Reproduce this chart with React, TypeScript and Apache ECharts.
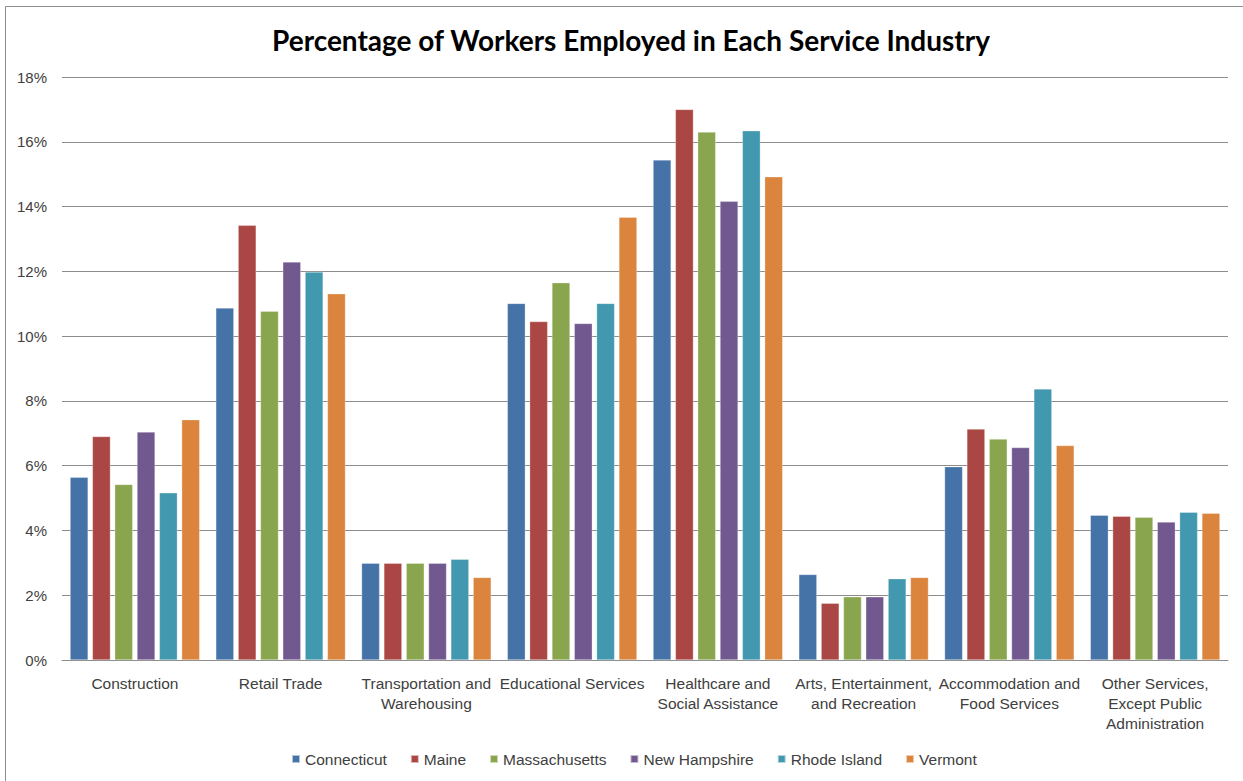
import React, { useEffect, useRef } from "react";
import * as echarts from "echarts";

const categories = [
  "Construction",
  "Retail Trade",
  "Transportation and\nWarehousing",
  "Educational Services",
  "Healthcare and\nSocial Assistance",
  "Arts, Entertainment,\nand Recreation",
  "Accommodation and\nFood Services",
  "Other Services,\nExcept Public\nAdministration",
];

const connecticut = [5.64, 10.87, 2.99, 11.01, 15.44, 2.64, 5.97, 4.47];
const maine = [6.9, 13.42, 2.99, 10.45, 17.0, 1.75, 7.13, 4.44];
const massachusetts = [5.42, 10.77, 2.99, 11.65, 16.3, 1.95, 6.82, 4.41];
const newHampshire = [7.04, 12.29, 2.99, 10.39, 14.16, 1.95, 6.56, 4.26];
const rhodeIsland = [5.16, 11.98, 3.11, 11.01, 16.34, 2.51, 8.37, 4.56];
const vermont = [7.42, 11.31, 2.55, 13.67, 14.92, 2.55, 6.62, 4.53];

const seriesNames = ["Connecticut", "Maine", "Massachusetts", "New Hampshire", "Rhode Island", "Vermont"];
const seriesData = [connecticut, maine, massachusetts, newHampshire, rhodeIsland, vermont];
const seriesColors = ["#4572a7", "#aa4643", "#89a54e", "#71588f", "#4198af", "#db843d"];

const yTicks = { min: 0, max: 18, interval: 2 };

export default function App() {
  const ref = useRef<HTMLDivElement>(null);
  useEffect(() => {
    if (!ref.current) return;
    const chart = echarts.init(ref.current, undefined, { renderer: "svg" });
    const font = "Liberation Sans";
    chart.setOption({
      animation: false,
      backgroundColor: "#ffffff",
      textStyle: { fontFamily: font },
      title: {
        text: "Percentage of Workers Employed in Each Service Industry",
        left: 626,
        textAlign: "center",
        top: 21,
        textStyle: { fontFamily: "Lato", fontWeight: "bold", fontSize: 28, color: "#000000" },
      },
      graphic: [
        {
          type: "polyline",
          shape: { points: [[5.5, 790], [5.5, 6.5], [1250, 6.5]] },
          style: { stroke: "#8c8c8c", lineWidth: 1, fill: "none" },
          silent: true,
        },
      ],
      legend: {
        bottom: 9,
        left: 286,
        itemWidth: 8,
        itemHeight: 8,
        itemGap: 23,
        icon: "rect",
        textStyle: { fontFamily: font, fontSize: 15.5, color: "#404040", padding: [0, 0, 0, 0] },
        data: seriesNames,
      },
      grid: { left: 62, right: 15, top: 77, bottom: 121, containLabel: false },
      xAxis: {
        type: "category",
        data: categories,
        axisLine: { show: true, lineStyle: { color: "#8c8c8c", width: 1 } },
        axisTick: { show: false },
        axisLabel: {
          interval: 0,
          fontFamily: font,
          fontSize: 15.5,
          color: "#404040",
          lineHeight: 20,
          margin: 13,
        },
      },
      yAxis: {
        type: "value",
        min: yTicks.min,
        max: yTicks.max,
        interval: yTicks.interval,
        axisLine: { show: false },
        axisTick: { show: false },
        splitLine: { lineStyle: { color: "#8c8c8c", width: 1 } },
        axisLabel: {
          formatter: (v: number) => v + "%",
          fontFamily: font,
          fontSize: 15,
          color: "#404040",
          margin: 15,
        },
      },
      series: seriesNames.map((name, i) => ({
        name,
        type: "bar",
        data: seriesData[i],
        barWidth: 18,
        barGap: "24%",
        itemStyle: { color: seriesColors[i], borderColor: "rgba(255,255,255,0.6)", borderWidth: 0.5 },
      })),
    });
    return () => chart.dispose();
  }, []);
  return (
    <div
      ref={ref}
      style={{ position: "fixed", left: 0, top: 0, width: 1243, height: 781 }}
    />
  );
}
